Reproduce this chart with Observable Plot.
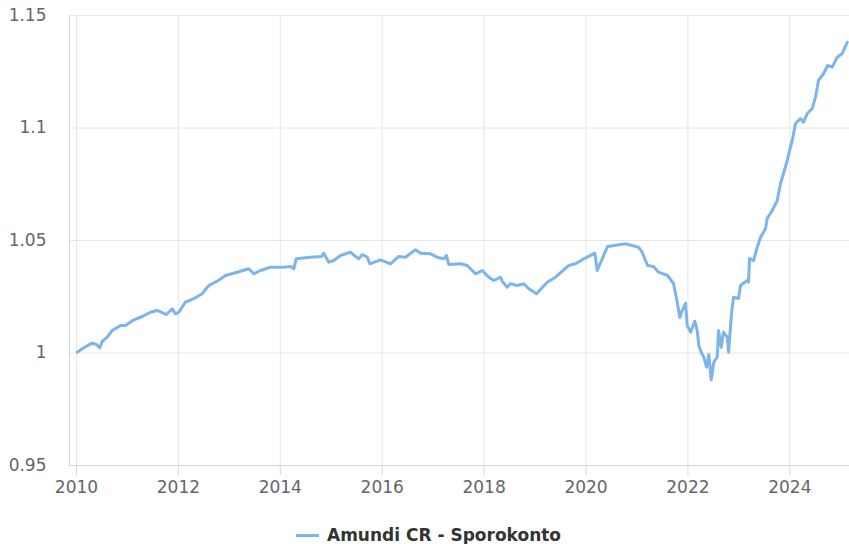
<!DOCTYPE html>
<html>
<head>
<meta charset="utf-8">
<script src="https://cdn.jsdelivr.net/npm/d3@7"></script>
<script src="https://cdn.jsdelivr.net/npm/@observablehq/plot@0.6"></script>
<style>
  html, body { margin: 0; padding: 0; background: #ffffff; }
  #wrap { position: relative; width: 849px; height: 544px; font-family: "DejaVu Sans", sans-serif; }
  #legend { position: absolute; left: 296px; top: 525px; height: 20px; line-height: 20px; font-size: 17px; font-weight: bold; color: #333333; white-space: nowrap; }
  #legend .sym { display: inline-block; width: 23px; height: 3px; background: #7cb5ec; vertical-align: middle; margin-right: 8px; position: relative; top: -1px; }
</style>
</head>
<body>
<div id="wrap">
  <div id="chart"></div>
  <div id="legend"><span class="sym"></span><span id="legendText"></span></div>
</div>
<script>
const seriesName = "Amundi CR - Sporokonto";

// decimal year of each observation
const years = [
  2010.014, 2010.143, 2010.308, 2010.393, 2010.457, 2010.504, 2010.603, 2010.701, 2010.864, 2010.962,
  2011.125, 2011.289, 2011.452, 2011.584, 2011.766, 2011.878, 2011.943, 2012.008, 2012.139, 2012.336,
  2012.467, 2012.597, 2012.762, 2012.924, 2013.154, 2013.382, 2013.480, 2013.611, 2013.808, 2014.069,
  2014.200, 2014.265, 2014.312, 2014.593, 2014.809, 2014.854, 2014.887, 2014.952, 2015.050, 2015.182,
  2015.378, 2015.476, 2015.541, 2015.607, 2015.706, 2015.757, 2015.967, 2016.163, 2016.326, 2016.457,
  2016.654, 2016.752, 2016.948, 2017.080, 2017.209, 2017.262, 2017.307, 2017.537, 2017.668, 2017.831,
  2017.963, 2018.092, 2018.190, 2018.322, 2018.355, 2018.453, 2018.518, 2018.650, 2018.779, 2018.877,
  2019.028, 2019.238, 2019.401, 2019.662, 2019.794, 2019.957, 2020.173, 2020.220, 2020.422, 2020.775,
  2021.030, 2021.102, 2021.207, 2021.325, 2021.423, 2021.599, 2021.717, 2021.790, 2021.841, 2021.888,
  2021.953, 2021.986, 2022.051, 2022.135, 2022.182, 2022.214, 2022.261, 2022.312, 2022.365, 2022.410,
  2022.457, 2022.508, 2022.575, 2022.600, 2022.653, 2022.698, 2022.771, 2022.797, 2022.856, 2022.895,
  2022.993, 2023.032, 2023.164, 2023.189, 2023.209, 2023.288, 2023.360, 2023.425, 2023.523, 2023.556,
  2023.654, 2023.753, 2023.817, 2023.876, 2023.949, 2023.994, 2024.047, 2024.112, 2024.210, 2024.269,
  2024.342, 2024.440, 2024.504, 2024.563, 2024.663, 2024.741, 2024.833, 2024.930, 2025.029, 2025.127
];

// fund value
const values = [
  1.00036, 1.00231, 1.00436, 1.00378, 1.00231, 1.00511, 1.00702, 1.01000, 1.01222, 1.01222,
  1.01476, 1.01622, 1.01813, 1.01889, 1.01711, 1.01964, 1.01742, 1.01813, 1.02258, 1.02453,
  1.02631, 1.03000, 1.03191, 1.03444, 1.03591, 1.03742, 1.03520, 1.03667, 1.03813, 1.03813,
  1.03844, 1.03742, 1.04187, 1.04258, 1.04289, 1.04436, 1.04289, 1.04036, 1.04111, 1.04333,
  1.04480, 1.04289, 1.04187, 1.04378, 1.04258, 1.03964, 1.04142, 1.03964, 1.04289, 1.04258,
  1.04587, 1.04436, 1.04409, 1.04258, 1.04187, 1.04333, 1.03933, 1.03964, 1.03889, 1.03520,
  1.03667, 1.03369, 1.03222, 1.03369, 1.03191, 1.02924, 1.03076, 1.03000, 1.03076, 1.02853,
  1.02631, 1.03147, 1.03369, 1.03889, 1.03964, 1.04187, 1.04436, 1.03667, 1.04733, 1.04853,
  1.04702, 1.04480, 1.03889, 1.03844, 1.03591, 1.03444, 1.03089, 1.02258, 1.01578, 1.01889,
  1.02213, 1.01222, 1.00924, 1.01413, 1.01000, 1.00333, 1.00036, 0.99813, 0.99369, 0.99933,
  0.98809, 0.99591, 0.99813, 1.01000, 1.00258, 1.00924, 1.00702, 1.00036, 1.01756, 1.02480,
  1.02422, 1.03000, 1.03222, 1.03147, 1.04200, 1.04111, 1.04702, 1.05147, 1.05533, 1.05978,
  1.06333, 1.06778, 1.07533, 1.07978, 1.08556, 1.09000, 1.09444, 1.10200, 1.10422, 1.10258,
  1.10644, 1.10867, 1.11369, 1.12111, 1.12422, 1.12778, 1.12702, 1.13147, 1.13311, 1.13813
];

const xTicks = [2010, 2012, 2014, 2016, 2018, 2020, 2022, 2024];
const xTickLabels = ["2010", "2012", "2014", "2016", "2018", "2020", "2022", "2024"];
const yTicks = [0.95, 1, 1.05, 1.1, 1.15];
const yTickLabels = ["0.95", "1", "1.05", "1.1", "1.15"];
const xDomain = [2009.863, 2025.171];
const yDomain = [0.95, 1.15];

const data = years.map((t, i) => ({ t, v: values[i] }));
const xLabel = new Map(xTicks.map((t, i) => [t, xTickLabels[i]]));
const yLabel = new Map(yTicks.map((t, i) => [t, yTickLabels[i]]));

const chart = Plot.plot({
  width: 849,
  height: 505,
  marginTop: 15,
  marginBottom: 40,
  marginLeft: 69,
  marginRight: 0,
  style: { fontFamily: "DejaVu Sans, sans-serif", fontSize: "17px", color: "#666666", background: "#ffffff", overflow: "visible" },
  x: { type: "linear", domain: xDomain },
  y: { type: "linear", domain: yDomain },
  marks: [
    Plot.gridX(xTicks, { stroke: "#e6e6e6", strokeOpacity: 1 }),
    Plot.gridY(yTicks, { stroke: "#e6e6e6", strokeOpacity: 1 }),
    Plot.ruleX([xDomain[0]], { stroke: "#ccd6eb" }),
    Plot.ruleY([yDomain[0]], { stroke: "#ccd6eb" }),
    Plot.axisX(xTicks, { tickSize: 10, tickPadding: 5, stroke: "#ccd6eb", fill: "#666666", tickFormat: d => xLabel.get(d), label: null }),
    Plot.axisY(yTicks, { tickSize: 0, tickPadding: 23, fill: "#666666", tickFormat: d => yLabel.get(d), label: null }),
    Plot.line(data, { x: "t", y: "v", stroke: "#7cb5ec", strokeWidth: 3, strokeLinejoin: "round", strokeLinecap: "round" })
  ]
});

document.getElementById("chart").appendChild(chart);
document.getElementById("legendText").textContent = seriesName;
</script>
</body>
</html>
